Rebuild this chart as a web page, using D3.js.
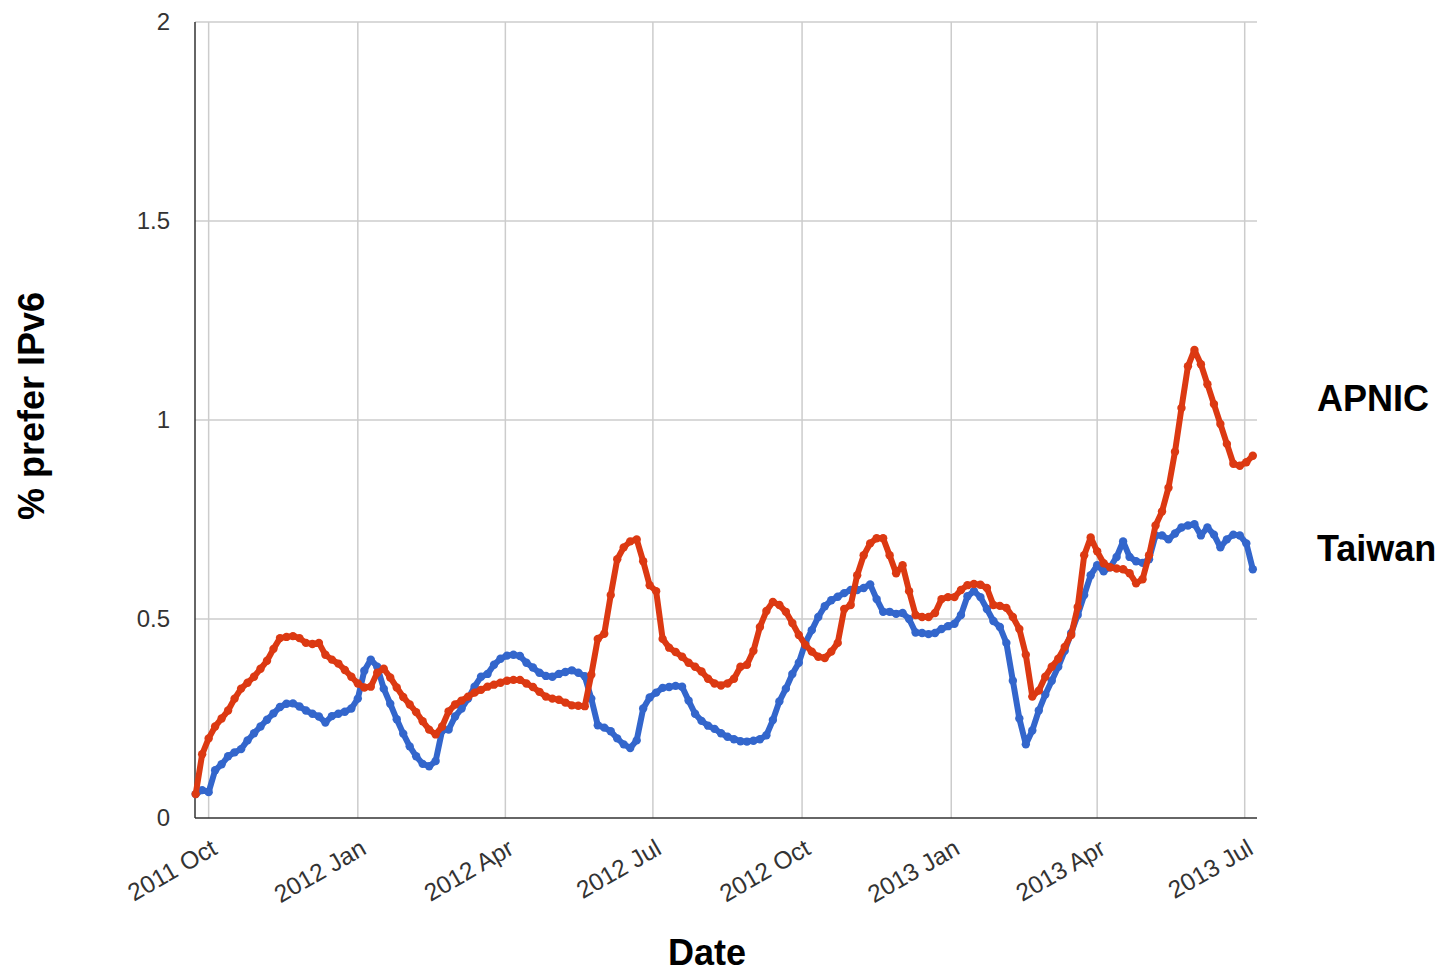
<!DOCTYPE html>
<html>
<head>
<meta charset="utf-8">
<script src="https://cdn.jsdelivr.net/npm/d3@7"></script>
<style>
  html, body { margin: 0; padding: 0; background: #fff; }
  svg { display: block; font-family: "Liberation Sans", Arial, sans-serif; }
</style>
</head>
<body>
<svg id="chart" width="1443" height="973"></svg>
<script>
// ---- data ----
const seriesNames = ["Taiwan", "APNIC"];
const seriesColors = ["#3366cc", "#dc3912"];
const firstDate = "2011-09-23";
const stepDays = 4;
const xDomainDates = ["2011-09-22T14:00", "2013-07-08T14:00"];
const xTickDates = ["2011-10-01", "2012-01-01", "2012-04-01", "2012-07-01", "2012-10-01", "2013-01-01", "2013-04-01", "2013-07-01"];
const yTicks = [0, 0.5, 1, 1.5, 2];

const apnicValues = [
  0.06, 0.16, 0.20, 0.23, 0.25, 0.27, 0.30, 0.325, 0.34, 0.355,
  0.375, 0.395, 0.425, 0.452, 0.455, 0.457, 0.452, 0.44, 0.437, 0.44,
  0.41, 0.398, 0.388, 0.372, 0.355, 0.338, 0.328, 0.33, 0.365, 0.375,
  0.353, 0.328, 0.304, 0.285, 0.266, 0.243, 0.222, 0.21, 0.23, 0.268,
  0.285, 0.295, 0.305, 0.315, 0.322, 0.33, 0.335, 0.34, 0.345, 0.347,
  0.347, 0.338, 0.329, 0.317, 0.305, 0.30, 0.297, 0.29, 0.283, 0.282,
  0.281, 0.36, 0.45, 0.463, 0.56, 0.65, 0.68, 0.695, 0.70, 0.645,
  0.585, 0.57, 0.45, 0.428, 0.417, 0.405, 0.39, 0.38, 0.368, 0.35,
  0.338, 0.333, 0.338, 0.35, 0.38, 0.385, 0.42, 0.48, 0.52, 0.543,
  0.535, 0.518, 0.49, 0.46, 0.435, 0.418, 0.405, 0.402, 0.418, 0.44,
  0.525, 0.535, 0.61, 0.66, 0.69, 0.703, 0.703, 0.66, 0.615, 0.635,
  0.57, 0.51, 0.505, 0.505, 0.515, 0.55, 0.555, 0.555, 0.573, 0.585,
  0.588, 0.586, 0.578, 0.535, 0.533, 0.528, 0.505, 0.475, 0.41, 0.305,
  0.32, 0.355, 0.38, 0.40, 0.43, 0.46, 0.53, 0.66, 0.705, 0.67,
  0.64, 0.63, 0.627, 0.625, 0.615, 0.59, 0.60, 0.66, 0.735, 0.77,
  0.83, 0.92, 1.03, 1.135, 1.176, 1.14, 1.09, 1.04, 0.99, 0.94,
  0.89, 0.885, 0.894, 0.91
];

const taiwanValues = [
  0.06, 0.07, 0.065, 0.12, 0.135, 0.155, 0.165, 0.173, 0.195, 0.213,
  0.23, 0.247, 0.263, 0.279, 0.287, 0.288, 0.28, 0.27, 0.262, 0.255,
  0.24, 0.256, 0.262, 0.267, 0.275, 0.30, 0.37, 0.398, 0.38, 0.325,
  0.287, 0.248, 0.212, 0.18, 0.155, 0.136, 0.13, 0.143, 0.22, 0.222,
  0.255, 0.275, 0.30, 0.33, 0.355, 0.362, 0.385, 0.40, 0.408, 0.41,
  0.407, 0.39, 0.378, 0.365, 0.357, 0.355, 0.362, 0.367, 0.371, 0.365,
  0.356, 0.30, 0.233, 0.227, 0.218, 0.20, 0.185, 0.176, 0.195, 0.275,
  0.303, 0.315, 0.327, 0.329, 0.332, 0.33, 0.295, 0.262, 0.244, 0.232,
  0.224, 0.213, 0.204, 0.198, 0.193, 0.192, 0.194, 0.198, 0.208, 0.246,
  0.293, 0.325, 0.362, 0.39, 0.44, 0.472, 0.505, 0.532, 0.547, 0.556,
  0.565, 0.573, 0.573, 0.578, 0.587, 0.55, 0.518, 0.518, 0.513, 0.515,
  0.50, 0.466, 0.465, 0.462, 0.465, 0.475, 0.482, 0.488, 0.51, 0.557,
  0.57, 0.555, 0.525, 0.495, 0.48, 0.44, 0.345, 0.25, 0.185, 0.22,
  0.27, 0.31, 0.345, 0.38, 0.42, 0.465, 0.51, 0.56, 0.61, 0.635,
  0.62, 0.63, 0.656, 0.695, 0.656, 0.645, 0.641, 0.65, 0.71, 0.71,
  0.70, 0.715, 0.73, 0.735, 0.738, 0.71, 0.73, 0.712, 0.68, 0.70,
  0.712, 0.71, 0.69, 0.625
];

// ---- build ----
const svg = d3.select("#chart");
const parseDay = d3.timeParse("%Y-%m-%d");
const parseDT = d3.timeParse("%Y-%m-%dT%H:%M");
const start = parseDay(firstDate);
const dateAt = i => d3.timeDay.offset(start, i * stepDays);

const x = d3.scaleTime()
  .domain(xDomainDates.map(parseDT))
  .range([195, 1257]);
const y = d3.scaleLinear().domain([0, 2]).range([818, 22]);

const gridColor = "#cccccc";
const axisColor = "#333333";
const textColor = "#333333";

// gridlines
const grid = svg.append("g");
grid.selectAll("line.h").data(yTicks.filter(d => d > 0)).enter().append("line")
  .attr("x1", x.range()[0]).attr("x2", x.range()[1])
  .attr("y1", d => y(d)).attr("y2", d => y(d))
  .attr("stroke", gridColor).attr("stroke-width", 1.5);
const xTicks = xTickDates.map(parseDay);
grid.selectAll("line.v").data(xTicks).enter().append("line")
  .attr("x1", d => x(d)).attr("x2", d => x(d))
  .attr("y1", y(2)).attr("y2", y(0))
  .attr("stroke", gridColor).attr("stroke-width", 1.5);

// axes lines
svg.append("line").attr("x1", x.range()[0]).attr("x2", x.range()[0])
  .attr("y1", y(2)).attr("y2", y(0)).attr("stroke", axisColor).attr("stroke-width", 1.5);
svg.append("line").attr("x1", x.range()[0]).attr("x2", x.range()[1])
  .attr("y1", y(0)).attr("y2", y(0)).attr("stroke", axisColor).attr("stroke-width", 1.5);

// y tick labels
svg.append("g").selectAll("text").data(yTicks).enter().append("text")
  .attr("x", 170).attr("y", d => y(d))
  .attr("dy", "0.35em")
  .attr("text-anchor", "end")
  .attr("font-size", 24)
  .attr("fill", textColor)
  .text(d => String(d));

// x tick labels
const fmt = d3.timeFormat("%Y %b");
svg.append("g").selectAll("text").data(xTicks).enter().append("text")
  .attr("transform", d => `translate(${x(d) + 10},${y(0) + 35}) rotate(-30)`)
  .attr("text-anchor", "end")
  .attr("font-size", 24.5)
  .attr("fill", textColor)
  .text(d => fmt(d));

// axis titles
svg.append("text")
  .attr("x", 707).attr("y", 965)
  .attr("text-anchor", "middle")
  .attr("font-size", 36).attr("font-weight", "bold").attr("fill", "#000")
  .text("Date");
svg.append("text")
  .attr("transform", "translate(44,406) rotate(-90)")
  .attr("text-anchor", "middle")
  .attr("font-size", 36).attr("font-weight", "bold").attr("fill", "#000")
  .text("% prefer IPv6");

// series
const seriesData = [taiwanValues, apnicValues].map(vals => vals.map((v, i) => ({ date: dateAt(i), value: v })));
const line = d3.line().x(d => x(d.date)).y(d => y(d.value));
seriesData.forEach((data, s) => {
  const g = svg.append("g");
  g.append("path").datum(data)
    .attr("d", line)
    .attr("fill", "none")
    .attr("stroke", seriesColors[s])
    .attr("stroke-width", 6)
    .attr("stroke-linejoin", "round");
  g.selectAll("circle").data(data).enter().append("circle")
    .attr("cx", d => x(d.date)).attr("cy", d => y(d.value))
    .attr("r", 4.2)
    .attr("fill", seriesColors[s]);
});

// series labels
const labelY = [561, 411];
seriesNames.forEach((name, s) => {
  svg.append("text")
    .attr("x", 1317).attr("y", labelY[s])
    .attr("font-size", 36).attr("font-weight", "bold").attr("fill", "#000")
    .text(name);
});
</script>
</body>
</html>
